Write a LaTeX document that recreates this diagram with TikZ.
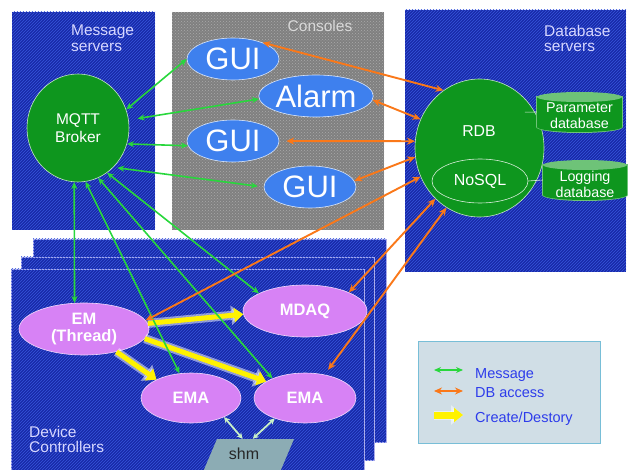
\documentclass[tikz,border=0pt]{standalone}
\usepackage{fontspec}
\setmainfont{Liberation Sans}
\usetikzlibrary{arrows.meta,patterns,shapes.geometric}

\definecolor{boxblue}{RGB}{24,42,168}
\definecolor{hatchblue}{RGB}{55,85,220}
\definecolor{layeredge}{RGB}{175,175,235}
\definecolor{consgray}{RGB}{128,128,128}
\definecolor{dotgray}{RGB}{170,170,170}
\definecolor{nodegreen}{RGB}{14,150,30}
\definecolor{topgreen}{RGB}{110,195,120}
\definecolor{guiblue}{RGB}{62,128,238}
\definecolor{procviolet}{RGB}{215,130,245}
\definecolor{msggreen}{RGB}{40,215,60}
\definecolor{dborange}{RGB}{250,120,25}
\definecolor{shmgreen}{RGB}{200,240,200}
\definecolor{shmfill}{RGB}{140,172,180}
\definecolor{labelblue}{RGB}{215,215,255}
\definecolor{legendfill}{RGB}{208,222,230}
\definecolor{legendedge}{RGB}{120,190,215}
\definecolor{legendtext}{RGB}{45,60,235}

\begin{document}
\begin{tikzpicture}[x=1pt,y=1pt,yscale=-1,
  bluebox/.style={fill=boxblue, postaction={pattern=north east lines, pattern color=hatchblue}},
  consolebox/.style={fill=consgray, postaction={pattern=crosshatch dots, pattern color=dotgray}},
  boxlabel/.style={inner sep=0, align=left, text=labelblue, font=\fontsize{15.5}{15.5}\selectfont},
  guinode/.style={ellipse, inner sep=0, fill=guiblue, draw=white!80!guiblue, line width=.6, text=white, font=\fontsize{31}{31}\selectfont},
  servernode/.style={ellipse, inner sep=0, fill=nodegreen, draw=white!75!nodegreen, line width=.6, text=white, align=center, font=\fontsize{15.5}{18}\selectfont},
  procnode/.style={ellipse, inner sep=0, fill=procviolet, draw=white!70!procviolet, line width=.6, text=white, align=center, font=\bfseries\fontsize{16.5}{17.5}\selectfont},
  dbtext/.style={inner sep=0, align=center, text=white, font=\fontsize{14.3}{16}\selectfont},
  legendlabel/.style={anchor=base west, inner sep=0, text=legendtext, font=\fontsize{14.5}{14.5}\selectfont},
  msgarrow/.style={draw=msggreen, line width=1.6, {Stealth[length=7pt,width=6pt]}-{Stealth[length=7pt,width=6pt]}},
  dbarrow/.style={draw=dborange, line width=1.9, {Stealth[length=8pt,width=7pt]}-{Stealth[length=8pt,width=7pt]}},
  shmarrow/.style={draw=shmgreen, line width=1.8, {Stealth[length=6pt,width=6pt]}-{Stealth[length=6pt,width=6pt]}},
  createarrow/.style={draw=yellow, line width=5, -{Triangle[length=9pt,width=14pt]},
    preaction={draw=white, opacity=.5, line width=9, -{Triangle[length=12pt,width=19pt]}}}]
\useasboundingbox (0,0) rectangle (629,470);

% boxes
\path[bluebox] (12,12) rectangle (155,230);
\path[consolebox] (172,12) rectangle (384,230);
\path[bluebox] (405,10) rectangle (626,272);
\path[bluebox, draw=layeredge, line width=.8] (33,239) rectangle (386,442);
\path[bluebox, draw=layeredge, line width=.8] (21,257) rectangle (374,460);
\path[bluebox, draw=layeredge, line width=.8] (11,269) rectangle (364,480);

% box titles
\node[boxlabel, anchor=north west] (msgtitle) at (71,25) {Message\\servers};
\node[boxlabel, anchor=base, text=white!85!black] (constitle) at (320,32) {Consoles};
\node[boxlabel, anchor=north west] (dbtitle) at (544,25) {Database\\servers};
\node[boxlabel, anchor=north west] (devtitle) at (29,426) {Device\\Controllers};

% message server
\node[servernode, minimum width=102, minimum height=108] (mqtt) at (78,128) {MQTT\\Broker};

% consoles
\node[guinode, minimum width=92, minimum height=42] (gui1) at (233,59) {GUI};
\node[guinode, minimum width=94, minimum height=42] (alarm) at (316,96) {Alarm};
\node[guinode, minimum width=92, minimum height=42] (gui2) at (233,141) {GUI};
\node[guinode, minimum width=92, minimum height=42] (gui3) at (310,187) {GUI};

% database servers
\node[servernode, minimum width=129, minimum height=138] (rdb) at (479.5,148) {};
\node[dbtext, font=\fontsize{15.8}{16}\selectfont] (rdbtext) at (479,131) {RDB};
\node[ellipse, inner sep=0, draw=white!85!nodegreen, line width=.6, text=white, minimum width=96, minimum height=44, font=\fontsize{16}{16}\selectfont] (nosql) at (480,181) {NoSQL};

% parameter database
\fill[topgreen] (536,96) rectangle (623,127);
\fill[topgreen] (579.5,127) ellipse [x radius=43.5, y radius=6];
\fill[nodegreen] (537,97) rectangle (622,127);
\fill[nodegreen] (579.5,127) ellipse [x radius=42.5, y radius=5];
\fill[topgreen] (579.5,97) ellipse [x radius=42.5, y radius=5];
\node[inner sep=0, minimum width=85, minimum height=30] (pdb) at (579.5,112) {};
\node[dbtext] (pdbtext) at (579.5,116) {Parameter\\database};

% logging database
\fill[topgreen] (542,164) rectangle (628,195);
\fill[topgreen] (585,195) ellipse [x radius=43, y radius=6];
\fill[nodegreen] (543,165) rectangle (627,195);
\fill[nodegreen] (585,195) ellipse [x radius=42, y radius=5];
\fill[topgreen] (585,165) ellipse [x radius=42, y radius=5];
\node[inner sep=0, minimum width=84, minimum height=30] (ldb) at (585,180) {};
\node[dbtext] (ldbtext) at (585,184) {Logging\\database};

\draw[white!85!nodegreen, line width=.6, shorten <=-10pt] (rdb.33) -- (pdb.west);
\draw[white!85!nodegreen, line width=.6] (nosql.east) -- (ldb.west);

% device controllers
\node[procnode, minimum width=130, minimum height=52] (em) at (84,329) {EM\\(Thread)};
\node[procnode, minimum width=124, minimum height=52] (mdaq) at (305,311) {MDAQ};
\node[procnode, minimum width=100, minimum height=50] (ema1) at (191,398) {EMA};
\node[procnode, minimum width=102, minimum height=50] (ema2) at (305,398) {EMA};

% shared memory
\fill[shmfill] (217,439) -- (294,439) -- (280,472) -- (203,472) -- cycle;
\node[inner sep=0, minimum width=60, minimum height=30, text=black!85, font=\fontsize{16}{16}\selectfont] (shm) at (244,454) {shm};
\draw[shmarrow] (ema1.-30) -- (shm.95);
\draw[shmarrow] (ema2.214.5) -- (shm.60);

% create / destroy
\draw[createarrow] (em.5) -- (mdaq.183.6);
\draw[createarrow] (em.-35.8) -- (ema1.152.2);
\draw[createarrow] (em.-9.5) -- (ema2.157.8);

% messages
\draw[msgarrow] (mqtt.21.8) -- (gui1.west);
\draw[msgarrow, shorten <=9pt] (mqtt.9.5) -- (alarm.183);
\draw[msgarrow] (mqtt.-18.8) -- (gui2.186);
\draw[msgarrow, shorten <=4pt, shorten >=6pt] (mqtt.-48.4) -- (gui3.west);
\draw[msgarrow] (mqtt.-57.4) -- (mdaq.159);
\draw[msgarrow] (mqtt.-68.9) -- (ema2.149.3);
\draw[msgarrow] (mqtt.-82.7) -- (ema1.115.7);
\draw[msgarrow] (mqtt.-94.8) -- (em.110.8);

% DB access
\draw[dbarrow] (gui1.29.5) -- (rdb.122.9);
\draw[dbarrow] (alarm.-4.9) -- (rdb.154);
\draw[dbarrow, shorten <=7pt] (gui2.east) -- (rdb.174);
\draw[dbarrow] (gui3.8.3) -- (rdb.188);
\draw[dbarrow] (em.8.7) -- (rdb.206);
\draw[dbarrow] (mdaq.23.8) -- (rdb.229.4);
\draw[dbarrow, shorten <=6pt] (ema2.50) -- (rdb.241.3);

% legend
\draw[legendedge, fill=legendfill, line width=1] (418,341) rectangle (600,443);
\coordinate (msgfrom) at (434,370);
\coordinate (msgto) at (463,370);
\coordinate (dbfrom) at (434,391);
\coordinate (dbto) at (463,391);
\coordinate (crfrom) at (434,415);
\coordinate (crto) at (463,415);
\draw[msgarrow, line width=1.3] (msgfrom) -- (msgto);
\draw[dbarrow, line width=1.3] (dbfrom) -- (dbto);
\draw[createarrow, line width=7] (crfrom) -- (crto);
\node[legendlabel] (msglabel) at (475,378) {Message};
\node[legendlabel] (dblabel) at (475,397) {DB access};
\node[legendlabel] (crlabel) at (475,422) {Create/Destory};

\end{tikzpicture}
\end{document}
